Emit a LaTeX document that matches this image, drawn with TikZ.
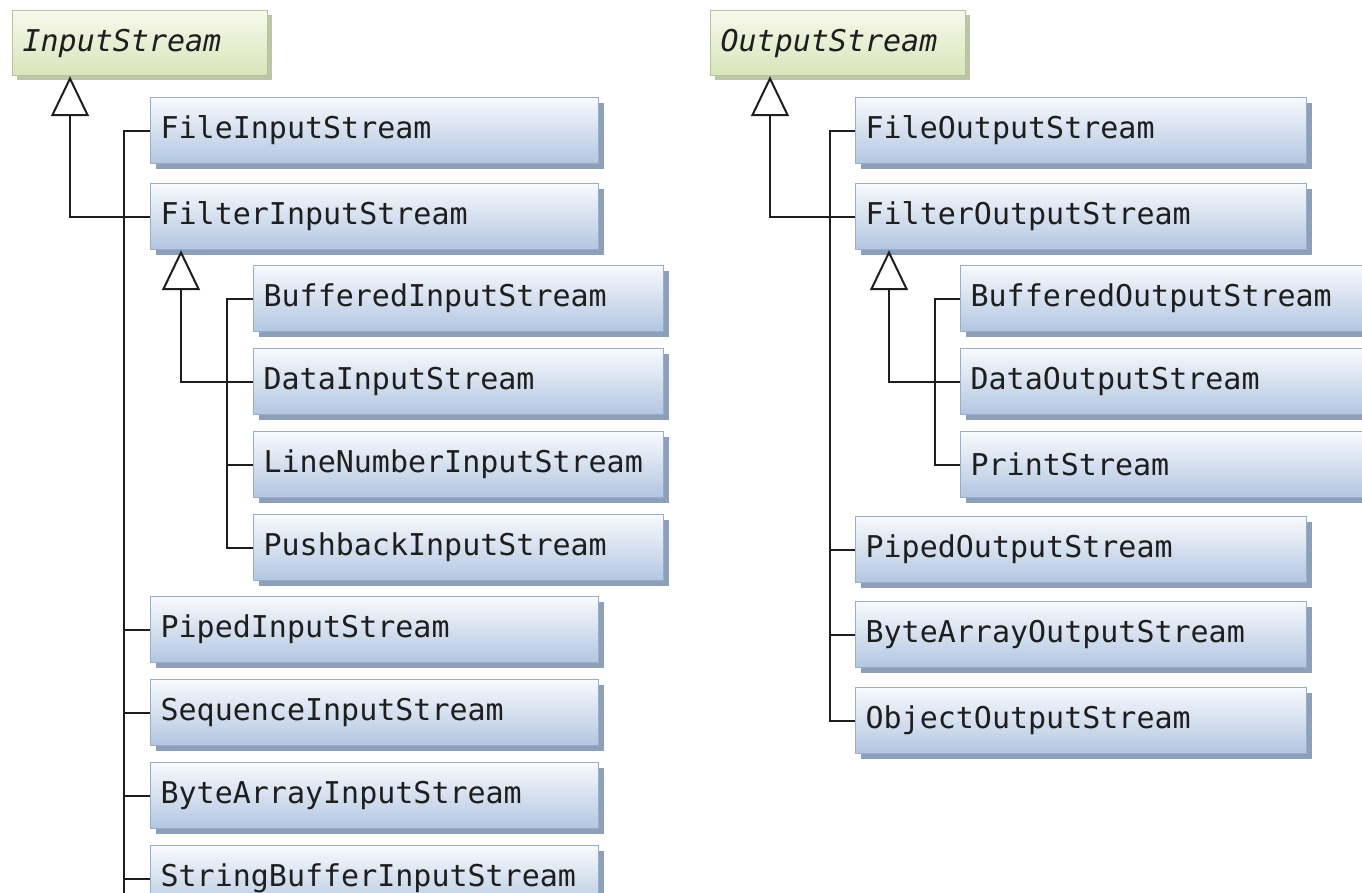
\documentclass[tikz,border=0pt]{standalone}
\usepackage{fontspec}
\newfontfamily\boxfont{DejaVu Sans Mono}
\usetikzlibrary{shadows,arrows.meta}
\definecolor{bluetop}{HTML}{F8FAFD}
\definecolor{bluebot}{HTML}{B2C6E1}
\definecolor{blueline}{HTML}{98ADCB}
\definecolor{blueshadow}{HTML}{8E9FB8}
\definecolor{greentop}{HTML}{F7F9EC}
\definecolor{greenbot}{HTML}{D8E4BA}
\definecolor{greenline}{HTML}{B7C596}
\definecolor{greenshadow}{HTML}{BCC5A8}
\definecolor{txt}{HTML}{1E1E1E}
\begin{document}
\begin{tikzpicture}[x=0.5pt,y=-0.5pt,
  basebox/.style={rectangle, anchor=north west, line width=0.6pt,
    minimum height=33pt, inner xsep=5pt, inner ysep=0pt,
    align=left, text=txt},
  cls/.style={basebox, draw=blueline, top color=bluetop, bottom color=bluebot,
    text width=#1, font=\boxfont\fontsize{15}{18}\selectfont,
    drop shadow={shadow xshift=2.5pt, shadow yshift=-2.5pt, fill=blueshadow, opacity=1}},
  abs/.style={basebox, draw=greenline, top color=greentop, bottom color=greenbot,
    text width=117.5pt, minimum height=32.5pt, font=\boxfont\itshape\fontsize{15}{18}\selectfont,
    drop shadow={shadow xshift=2pt, shadow yshift=-2pt, fill=greenshadow, opacity=1}},
  conn/.style={line width=1pt, draw=txt},
  inherit/.style={conn, -{Triangle[open, length=20pt, width=19pt, line width=1pt]}}
]
\fill[white] (0,0) rectangle (1362,893);
\useasboundingbox (0,0) rectangle (1362,893);

% ---------- InputStream hierarchy ----------
\node[abs] (InS) at (12,10) {InputStream};
\node[cls=214pt] (FileIS)   at (150,97)  {FileInputStream};
\node[cls=214pt] (FilterIS) at (150,183) {FilterInputStream};
\node[cls=195pt] (BufIS)    at (253,265) {BufferedInputStream};
\node[cls=195pt] (DataIS)   at (253,348) {DataInputStream};
\node[cls=195pt] (LineIS)   at (253,431) {LineNumberInputStream};
\node[cls=195pt] (PushIS)   at (253,514) {PushbackInputStream};
\node[cls=214pt] (PipedIS)  at (150,596) {PipedInputStream};
\node[cls=214pt] (SeqIS)    at (150,679) {SequenceInputStream};
\node[cls=214pt] (ByteIS)   at (150,762) {ByteArrayInputStream};
\node[cls=214pt] (StrIS)    at (150,845) {StringBufferInputStream};

\coordinate (tL) at (124,893);
\coordinate (apL) at ([xshift=29pt]InS.south west);
\coordinate (apLs) at ([xshift=15.5pt]FilterIS.south west);
\coordinate (tLs) at ([xshift=-13pt]PushIS.west);

\draw[conn] (FileIS.west) -| (tL);
\foreach \n in {PipedIS,SeqIS,ByteIS,StrIS}
  \draw[conn] (\n.west) -- (\n.west -| tL);
\draw[inherit] (FilterIS.west) -| (apL);

\draw[conn] (BufIS.west) -| (tLs) -- (PushIS.west);
\draw[conn] (LineIS.west) -- (LineIS.west -| tLs);
\draw[inherit] (DataIS.west) -| (apLs);

% ---------- OutputStream hierarchy ----------
\node[abs] (OutS) at (710,10) {OutputStream};
\node[cls=215.5pt] (FileOS)   at (855,97)  {FileOutputStream};
\node[cls=215.5pt] (FilterOS) at (855,183) {FilterOutputStream};
\node[cls=195pt]   (BufOS)    at (960,265) {BufferedOutputStream};
\node[cls=195pt]   (DataOS)   at (960,348) {DataOutputStream};
\node[cls=195pt]   (PrintOS)  at (960,431) {PrintStream};
\node[cls=215.5pt] (PipedOS)  at (855,516) {PipedOutputStream};
\node[cls=215.5pt] (ByteOS)   at (855,601) {ByteArrayOutputStream};
\node[cls=215.5pt] (ObjOS)    at (855,687) {ObjectOutputStream};

\coordinate (tR) at ([xshift=-12.5pt]ObjOS.west);
\coordinate (apR) at ([xshift=30pt]OutS.south west);
\coordinate (apRs) at ([xshift=17pt]FilterOS.south west);
\coordinate (tRs) at ([xshift=-12.5pt]PrintOS.west);

\draw[conn] (FileOS.west) -| (tR) -- (ObjOS.west);
\foreach \n in {PipedOS,ByteOS}
  \draw[conn] (\n.west) -- (\n.west -| tR);
\draw[inherit] (FilterOS.west) -| (apR);

\draw[conn] (BufOS.west) -| (tRs) -- (PrintOS.west);
\draw[inherit] (DataOS.west) -| (apRs);
\end{tikzpicture}
\end{document}
